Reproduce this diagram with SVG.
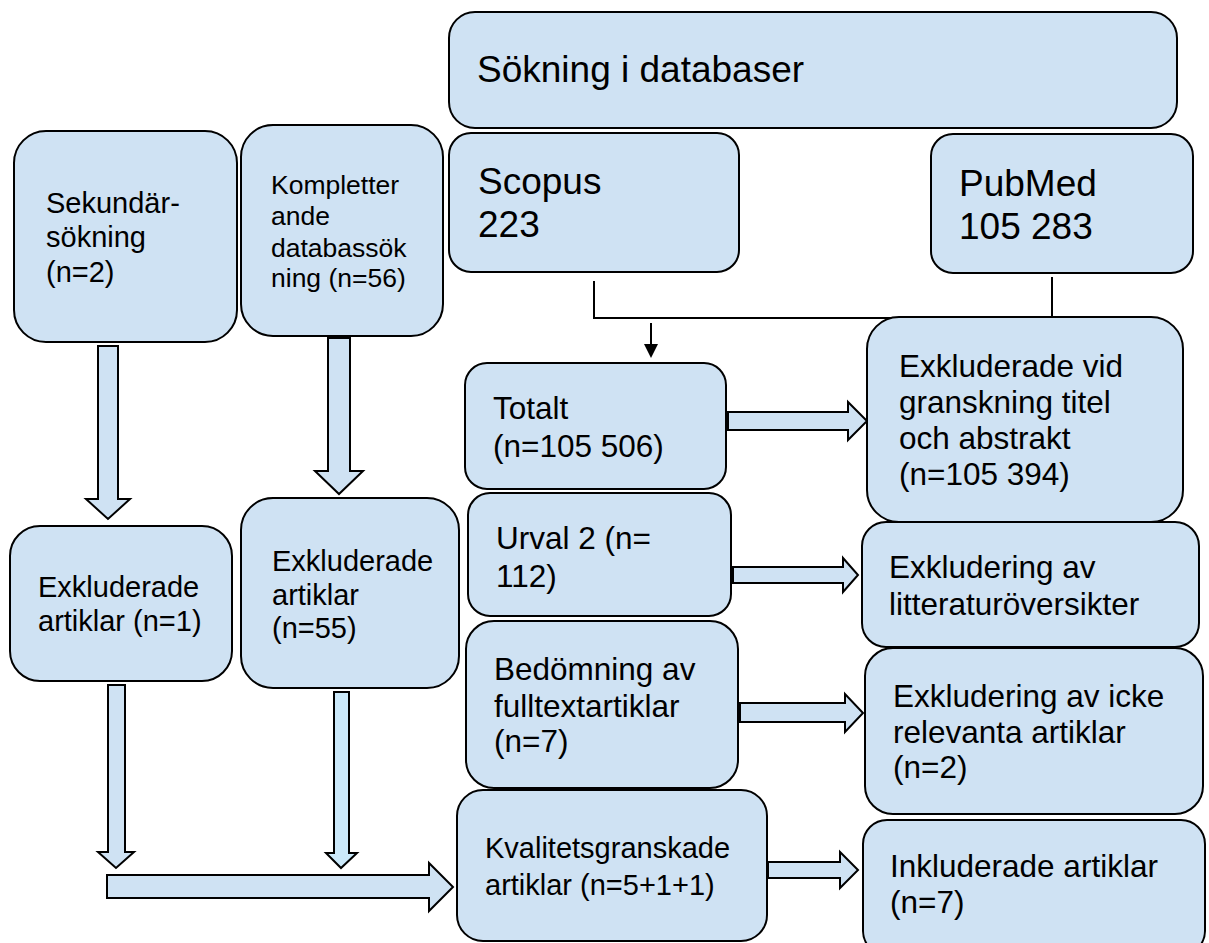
<svg xmlns="http://www.w3.org/2000/svg" width="1209" height="943" viewBox="0 0 1209 943">
<style>
.box{fill:#cfe2f3;stroke:#000;stroke-width:2}
.arr{fill:#cfe2f3;stroke:#000;stroke-width:2;stroke-linejoin:miter}
.arr2{fill:#cbe9fa;stroke:#000;stroke-width:2}
.ln{fill:none;stroke:#000;stroke-width:2}
text{font-family:"Liberation Sans",Arial,sans-serif;fill:#000}
.t37{font-size:37px}
.t31{font-size:31.5px}
.t29{font-size:29px}
.t26{font-size:26.5px}
</style>
<rect width="1209" height="943" fill="#fff"/>
<g id="connectors">
<polyline class="ln" points="594,281 594,318 1052,318"/>
<line class="ln" x1="1052" y1="277" x2="1052" y2="320"/>
<line class="ln" x1="651" y1="323" x2="651" y2="345"/>
<polygon points="644,344 658,344 651,358" fill="#000"/>
<polygon class="arr" points="98,346 118,346 118,499 130,499 108,519 86,499 98,499"/>
<polygon class="arr" points="328,338 350,338 350,471 363,471 339,494 315,471 328,471"/>
<polygon class="arr" points="108,685 125,685 125,852 134,852 116,868 98,852 108,852"/>
<polygon class="arr2" points="334,692 349,692 349,853 357,853 341,868 326,853 334,853"/>
<polygon class="arr" points="107,875 429,875 429,863 453,887 429,911 429,898 107,898"/>
<polygon class="arr" points="728,412 848,412 848,402 867,421 848,440 848,430 728,430"/>
<polygon class="arr" points="733,567 843,567 843,558 858,575 843,592 843,583 733,583"/>
<polygon class="arr" points="740,703 845,703 845,694 863,713 845,732 845,722 740,722"/>
<polygon class="arr" points="768,862 840,862 840,852 858,870 840,888 840,878 768,878"/>
</g>
<g id="sokning">
<rect class="box" x="449" y="12" width="728" height="116" rx="26"/>
<text class="t37" x="477" y="82">Sökning i databaser</text>
</g>
<g id="scopus">
<rect class="box" x="449" y="133" width="290" height="139" rx="22"/>
<text class="t37" x="478" y="194">Scopus</text>
<text class="t37" x="478" y="237">223</text>
</g>
<g id="pubmed">
<rect class="box" x="931" y="134" width="262" height="139" rx="22"/>
<text class="t37" x="959" y="196">PubMed</text>
<text class="t37" x="959" y="239">105 283</text>
</g>
<g id="sekundar">
<rect class="box" x="14" y="131" width="223" height="211" rx="32"/>
<text class="t29" x="46" y="213">Sekundär-</text>
<text class="t29" x="46" y="247">sökning</text>
<text class="t29" x="46" y="282">(n=2)</text>
</g>
<g id="kompletterande">
<rect class="box" x="241" y="125" width="202" height="211" rx="32"/>
<text class="t26" x="271" y="194">Kompletter</text>
<text class="t26" x="271" y="225">ande</text>
<text class="t26" x="271" y="257">databassök</text>
<text class="t26" x="271" y="287">ning (n=56)</text>
</g>
<g id="exkl1">
<rect class="box" x="10" y="526" width="222" height="155" rx="30"/>
<text class="t29" x="38" y="597">Exkluderade</text>
<text class="t29" x="38" y="631">artiklar (n=1)</text>
</g>
<g id="exkl55">
<rect class="box" x="241" y="498" width="218" height="190" rx="32"/>
<text class="t29" x="272" y="571">Exkluderade</text>
<text class="t29" x="272" y="605">artiklar</text>
<text class="t29" x="272" y="638">(n=55)</text>
</g>
<g id="totalt">
<rect class="box" x="465" y="363" width="261" height="126" rx="22"/>
<text class="t31" x="493" y="419">Totalt</text>
<text class="t31" x="493" y="457">(n=105 506)</text>
</g>
<g id="exkl-titel">
<rect class="box" x="867" y="317" width="316" height="205" rx="32"/>
<text class="t31" x="899" y="377">Exkluderade vid</text>
<text class="t31" x="899" y="413">granskning titel</text>
<text class="t31" x="899" y="449">och abstrakt</text>
<text class="t31" x="899" y="485">(n=105 394)</text>
</g>
<g id="urval2">
<rect class="box" x="468" y="493" width="263" height="123" rx="22"/>
<text class="t31" x="496" y="549">Urval 2 (n=</text>
<text class="t31" x="496" y="587">112)</text>
</g>
<g id="exkl-litt">
<rect class="box" x="862" y="522" width="337" height="125" rx="24"/>
<text class="t31" x="889" y="578">Exkludering av</text>
<text class="t31" x="889" y="615">litteraturöversikter</text>
</g>
<g id="bedomning">
<rect class="box" x="466" y="621" width="272" height="167" rx="28"/>
<text class="t31" x="494" y="680">Bedömning av</text>
<text class="t31" x="494" y="717">fulltextartiklar</text>
<text class="t31" x="494" y="752">(n=7)</text>
</g>
<g id="exkl-icke">
<rect class="box" x="865" y="648" width="338" height="166" rx="28"/>
<text class="t31" x="893" y="707">Exkludering av icke</text>
<text class="t31" x="893" y="743">relevanta artiklar</text>
<text class="t31" x="893" y="778">(n=2)</text>
</g>
<g id="kvalitet">
<rect class="box" x="457" y="790" width="310" height="151" rx="26"/>
<text class="t29" x="485" y="858">Kvalitetsgranskade</text>
<text class="t29" x="485" y="895">artiklar (n=5+1+1)</text>
</g>
<g id="inkluderade">
<rect class="box" x="863" y="820" width="342" height="135" rx="24"/>
<text class="t31" x="890" y="877">Inkluderade artiklar</text>
<text class="t31" x="890" y="913">(n=7)</text>
</g>
</svg>
